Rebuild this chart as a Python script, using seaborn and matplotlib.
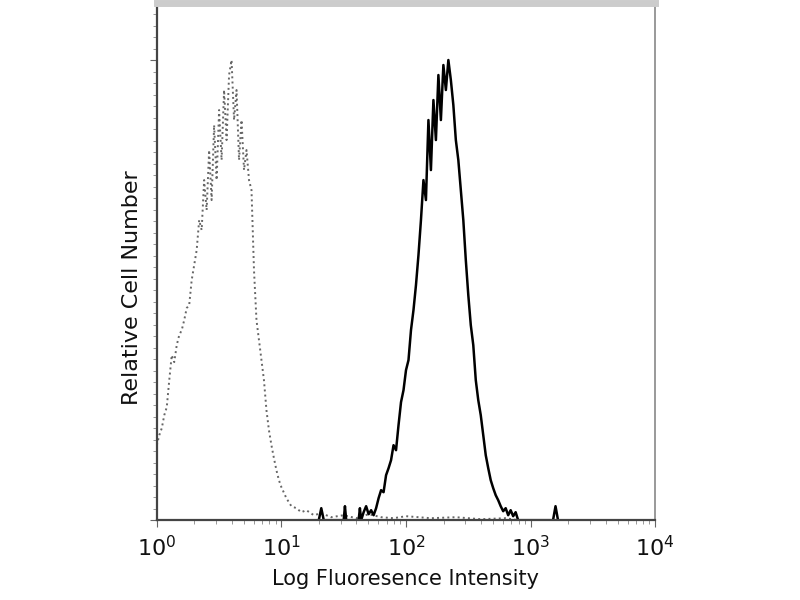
import numpy as np
import pandas as pd
import matplotlib
matplotlib.use("Agg")
import matplotlib.pyplot as plt
import seaborn as sns
from matplotlib.ticker import FixedLocator, MultipleLocator, NullFormatter

# изотипический контроль (пунктир), позиции в log10 и число клеток
ctrl_log = [0.00, 0.02, 0.04, 0.06, 0.08, 0.10, 0.12, 0.14, 0.16, 0.18,
            0.20, 0.22, 0.24, 0.26, 0.28, 0.30, 0.32, 0.34, 0.36, 0.38,
            0.40, 0.42, 0.44, 0.46, 0.48, 0.50, 0.52, 0.54, 0.56, 0.58,
            0.60, 0.62, 0.64, 0.66, 0.68, 0.70, 0.72, 0.74, 0.76, 0.78,
            0.80, 0.82, 0.84, 0.86, 0.88, 0.90, 0.92, 0.94, 0.96, 0.98,
            1.00, 1.04, 1.08, 1.12, 1.16, 1.20, 1.26, 1.32, 1.40, 1.50,
            1.60, 1.70, 1.80, 1.90, 2.00, 2.20, 2.40, 2.60, 2.80, 2.90]
ctrl_cnt = [75, 85, 92, 105, 113, 140, 165, 158, 175, 185,
            190, 200, 212, 215, 240, 255, 270, 300, 290, 340,
            310, 370, 320, 395, 340, 410, 360, 430, 380, 445,
            460, 400, 430, 360, 400, 350, 370, 340, 330, 250,
            200, 180, 160, 140, 110, 90, 75, 62, 50, 40,
            33, 22, 14, 12, 8, 10, 5, 7, 3, 5,
            2, 6, 3, 2, 4, 2, 3, 1, 2, 0]

# окрашенные клетки (сплошная линия)
stain_log = [1.30, 1.32, 1.34, 1.50, 1.51, 1.52, 1.62, 1.63, 1.64, 1.66,
             1.68, 1.70, 1.72, 1.74, 1.76, 1.78, 1.80, 1.82, 1.84, 1.86,
             1.88, 1.90, 1.92, 1.94, 1.96, 1.98, 2.00, 2.02, 2.04, 2.06,
             2.08, 2.10, 2.12, 2.14, 2.16, 2.18, 2.20, 2.22, 2.24, 2.26,
             2.28, 2.30, 2.32, 2.34, 2.36, 2.38, 2.40, 2.42, 2.44, 2.46,
             2.48, 2.50, 2.52, 2.54, 2.56, 2.58, 2.60, 2.62, 2.64, 2.66,
             2.68, 2.70, 2.72, 2.74, 2.76, 2.78, 2.80, 2.82, 2.84, 2.86,
             2.88, 2.90, 3.18, 3.20, 3.22]
stain_cnt = [0, 12, 0, 0, 14, 0, 0, 12, 0, 8,
             14, 6, 10, 5, 12, 22, 30, 28, 45, 52,
             60, 75, 70, 95, 118, 130, 150, 160, 190, 210,
             235, 265, 300, 340, 320, 400, 350, 420, 380, 445,
             400, 455, 430, 460, 440, 415, 380, 360, 330, 300,
             260, 225, 195, 175, 140, 120, 105, 85, 65, 52,
             40, 32, 25, 20, 14, 9, 12, 5, 10, 4,
             8, 0, 0, 14, 0]

tick_vals = [1, 10, 100, 1000, 10000]
tick_labels = ["$10^0$", "$10^1$", "$10^2$", "$10^3$", "$10^4$"]

sns.set_style("ticks")
plt.rcParams["font.family"] = ["DejaVu Sans"]
plt.rcParams["mathtext.default"] = "regular"

ctrl = pd.DataFrame({"x": 10 ** np.array(ctrl_log), "n": ctrl_cnt})
stain = pd.DataFrame({"x": 10 ** np.array(stain_log), "n": stain_cnt})

fig = plt.figure(figsize=(8, 6), dpi=100)
ax = fig.add_axes([0.196, 0.133, 0.623, 0.862])

sns.lineplot(data=ctrl, x="x", y="n", ax=ax, color="#666666",
             linestyle=":", linewidth=1.4)
sns.lineplot(data=stain, x="x", y="n", ax=ax, color="black",
             linewidth=1.8)

ax.set_xscale("log")
ax.set_xlim(1, 10000)
ax.set_ylim(0, 517)
ax.xaxis.set_major_locator(FixedLocator(tick_vals))
ax.set_xticklabels(tick_labels, fontsize=16, color="#111111")
ax.xaxis.set_minor_formatter(NullFormatter())
ax.yaxis.set_major_locator(MultipleLocator(460))
ax.yaxis.set_minor_locator(MultipleLocator(11.5))
ax.set_yticklabels([])
ax.tick_params(axis="both", which="major", length=5, color="#666666", pad=6)
ax.tick_params(axis="both", which="minor", length=3, color="#888888")

for side in ["left", "bottom"]:
    ax.spines[side].set_color("#444444")
    ax.spines[side].set_linewidth(1.6)
ax.spines["right"].set_color("#888888")
ax.spines["right"].set_linewidth(1.2)
ax.spines["top"].set_color("#cccccc")
ax.spines["top"].set_linewidth(5)

ax.set_xlabel("Log Fluoresence Intensity", fontsize=15, color="#111111",
              labelpad=6)
ax.set_ylabel("Relative Cell Number", fontsize=16, color="#111111")
ax.yaxis.set_label_coords(-0.03, 0.45)

plt.savefig("out.png", dpi=100)
